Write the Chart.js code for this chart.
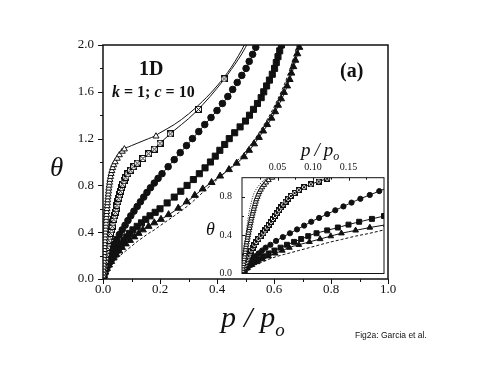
<!DOCTYPE html>
<html>
<head>
<meta charset="utf-8">
<script src="https://cdn.jsdelivr.net/npm/chart.js@4.4.0/dist/chart.umd.min.js"></script>
<style>
  body { margin: 0; background: #fff; }
  #wrap { position: relative; width: 491px; height: 379px; overflow: hidden; font-family: 'Liberation Serif', 'Times New Roman', serif; color: #111; }
  canvas { position: absolute; }
  .lbl { position: absolute; white-space: nowrap; line-height: 1; }
</style>
</head>
<body>
<div id="wrap">
  <canvas id="main" width="491" height="379" style="left:0;top:0"></canvas>
  <canvas id="inset" width="205" height="150" style="left:190px;top:140px"></canvas>

  <div class="lbl" style="left:50px;top:154px;font-size:27px;font-style:italic">θ</div>
  <div class="lbl" style="left:221px;top:302px;font-size:30px;font-style:italic">p<span style="margin:0 8px">/</span>p<sub style="font-size:19px;vertical-align:-9px">o</sub></div>
  <div class="lbl" style="left:139px;top:58px;font-size:20px;font-weight:bold">1D</div>
  <div class="lbl" style="left:112px;top:84px;font-size:16px;font-weight:bold"><i>k</i> = 1; <i>c</i> = 10</div>
  <div class="lbl" style="left:340px;top:60px;font-size:20px;font-weight:bold">(a)</div>
  <div class="lbl" style="left:301px;top:140px;font-size:19px;font-style:italic">p<span style="margin:0 4px">/</span>p<sub style="font-size:12px;vertical-align:-4px">o</sub></div>
  <div class="lbl" style="left:206px;top:220px;font-size:18px;font-style:italic">θ</div>
  <div class="lbl" style="left:355px;top:331px;font-size:8.5px;font-family:'Liberation Sans',Arial,sans-serif">Fig2a: Garcia et al.</div>
</div>

<script>
// p/po grid used by the model curves
const pGrid = [0, 0.002, 0.004, 0.006, 0.008, 0.01, 0.013, 0.016, 0.02, 0.025, 0.03, 0.035, 0.04, 0.05, 0.06, 0.07, 0.08, 0.09, 0.1, 0.12, 0.14, 0.16, 0.18, 0.2, 0.25, 0.3, 0.35, 0.4, 0.45, 0.5, 0.55, 0.6, 0.65, 0.7];

// model curves (theta at each pGrid value)
const thTriOpen = [0, 0.1, 0.2, 0.3, 0.38, 0.46, 0.57, 0.66, 0.77, 0.86, 0.92, 0.96, 0.99, 1.03, 1.07, 1.1, 1.12, 1.13, 1.14, 1.16, 1.18, 1.2, 1.22, 1.25, 1.32, 1.41, 1.52, 1.65, 1.81, 2.02, 2.3, 2.6, 2.9, 3.2];
const thSqOpen = [0, 0.04, 0.08, 0.12, 0.16, 0.19, 0.24, 0.28, 0.33, 0.38, 0.42, 0.48, 0.53, 0.64, 0.74, 0.82, 0.87, 0.91, 0.94, 0.99, 1.03, 1.07, 1.11, 1.16, 1.27, 1.37, 1.49, 1.63, 1.79, 1.98, 2.25, 2.55, 2.85, 3.15];
const thCircle = [0, 0.03, 0.055, 0.08, 0.1, 0.12, 0.145, 0.165, 0.19, 0.22, 0.25, 0.28, 0.3, 0.35, 0.39, 0.43, 0.47, 0.51, 0.55, 0.62, 0.69, 0.76, 0.82, 0.88, 1.02, 1.16, 1.3, 1.44, 1.6, 1.79, 2.06, 2.4, 2.8, 3.2];
const thSqFill = [0, 0.02, 0.04, 0.055, 0.07, 0.085, 0.1, 0.115, 0.135, 0.16, 0.18, 0.2, 0.22, 0.255, 0.29, 0.32, 0.35, 0.38, 0.41, 0.45, 0.49, 0.53, 0.565, 0.6, 0.7, 0.81, 0.93, 1.07, 1.22, 1.35, 1.53, 1.78, 2.2, 2.7];
const thTriFill = [0, 0.015, 0.03, 0.045, 0.06, 0.07, 0.085, 0.1, 0.115, 0.135, 0.155, 0.17, 0.19, 0.22, 0.25, 0.28, 0.3, 0.32, 0.34, 0.38, 0.42, 0.45, 0.48, 0.505, 0.58, 0.67, 0.77, 0.86, 0.95, 1.06, 1.22, 1.41, 1.67, 2.06];
const thDashed = [0, 0.015, 0.027, 0.038, 0.048, 0.057, 0.07, 0.082, 0.095, 0.11, 0.125, 0.14, 0.155, 0.18, 0.2, 0.22, 0.24, 0.26, 0.28, 0.32, 0.355, 0.39, 0.42, 0.455, 0.54, 0.63, 0.74, 0.85, 0.96, 1.09, 1.26, 1.47, 1.75, 2.15];
const thDotted = [0, 0.16, 0.3, 0.43, 0.55, 0.64, 0.74, 0.82, 0.88, 0.93, 0.97, 0.99, 1.01, 1.04, 1.08, 1.11, 1.13, 1.14, 1.15, 1.17, 1.19, 1.21, 1.23, 1.26, 1.33, 1.42, 1.53, 1.66, 1.82, 2.03, 2.31, 2.6, 2.9, 3.2];

// simulation points [p/po, theta]
const simTriOpen = [[0.0005,0.025],[0.001,0.05],[0.0015,0.075],[0.002,0.1],[0.0025,0.125],[0.003,0.15],[0.0035,0.175],[0.004,0.2],[0.0045,0.225],[0.005,0.25],[0.0055,0.275],[0.006,0.3],[0.0066,0.325],[0.0073,0.35],[0.0079,0.375],[0.0085,0.4],[0.0091,0.425],[0.0097,0.45],[0.0105,0.475],[0.0111,0.5],[0.0118,0.525],[0.0125,0.55],[0.0132,0.575],[0.014,0.6],[0.0148,0.625],[0.0157,0.65],[0.0165,0.675],[0.0175,0.7],[0.0184,0.725],[0.0193,0.75],[0.0203,0.775],[0.0217,0.8],[0.0231,0.825],[0.0244,0.85],[0.0263,0.875],[0.0283,0.9],[0.031,0.925],[0.0338,0.95],[0.0375,0.975],[0.0425,1.0],[0.05,1.03],[0.0575,1.06],[0.0675,1.09],[0.075,1.11],[0.186,1.22]];
const simSqOpen = [[0.0015,0.03],[0.003,0.06],[0.0045,0.09],[0.006,0.12],[0.0075,0.15],[0.0093,0.18],[0.0112,0.21],[0.013,0.24],[0.0153,0.27],[0.0176,0.3],[0.02,0.33],[0.023,0.36],[0.0263,0.39],[0.03,0.42],[0.0325,0.45],[0.035,0.48],[0.038,0.51],[0.0409,0.54],[0.0436,0.57],[0.0464,0.6],[0.049,0.63],[0.052,0.66],[0.055,0.69],[0.058,0.72],[0.0613,0.75],[0.065,0.78],[0.0688,0.81],[0.074,0.84],[0.08,0.87],[0.0875,0.9],[0.097,0.93],[0.108,0.96],[0.12,0.99],[0.14,1.03],[0.16,1.07],[0.18,1.11],[0.2,1.16],[0.236,1.24],[0.335,1.45],[0.425,1.71]];
const simCircle = [[0.002,0.03],[0.0044,0.06],[0.007,0.09],[0.01,0.12],[0.0138,0.15],[0.0184,0.18],[0.0233,0.21],[0.0283,0.24],[0.0333,0.27],[0.04,0.3],[0.048,0.34],[0.0575,0.38],[0.0675,0.42],[0.0775,0.46],[0.0875,0.5],[0.0975,0.54],[0.1086,0.58],[0.12,0.62],[0.1314,0.66],[0.1429,0.7],[0.1543,0.74],[0.1667,0.78],[0.18,0.82],[0.1933,0.86],[0.2071,0.9],[0.2286,0.96],[0.25,1.02],[0.271,1.08],[0.293,1.14],[0.314,1.2],[0.336,1.26],[0.357,1.32],[0.379,1.38],[0.4,1.44],[0.419,1.5],[0.438,1.56],[0.455,1.62],[0.471,1.68],[0.487,1.74],[0.502,1.8],[0.513,1.86],[0.525,1.92],[0.536,1.98]];
const simSqFill = [[0.003,0.03],[0.0067,0.06],[0.011,0.09],[0.017,0.12],[0.023,0.15],[0.03,0.18],[0.0375,0.21],[0.0457,0.24],[0.0543,0.27],[0.0633,0.3],[0.0733,0.33],[0.0833,0.36],[0.0933,0.39],[0.105,0.42],[0.12,0.45],[0.135,0.48],[0.15,0.51],[0.165,0.54],[0.183,0.57],[0.2,0.6],[0.225,0.65],[0.25,0.7],[0.273,0.75],[0.295,0.8],[0.317,0.85],[0.338,0.9],[0.358,0.95],[0.377,1.0],[0.394,1.05],[0.41,1.1],[0.427,1.15],[0.443,1.2],[0.462,1.25],[0.481,1.3],[0.5,1.35],[0.514,1.4],[0.528,1.45],[0.542,1.5],[0.555,1.55],[0.564,1.6],[0.574,1.65],[0.584,1.7],[0.594,1.75],[0.602,1.8],[0.608,1.85],[0.614,1.9],[0.62,1.95],[0.626,2.0]];
const simTriFill = [[0.004,0.03],[0.008,0.06],[0.014,0.09],[0.0213,0.12],[0.0288,0.15],[0.0375,0.18],[0.0467,0.21],[0.0567,0.24],[0.0667,0.27],[0.08,0.3],[0.095,0.33],[0.11,0.36],[0.125,0.39],[0.14,0.42],[0.16,0.45],[0.18,0.48],[0.2034,0.51],[0.23,0.55],[0.264,0.605],[0.294,0.66],[0.322,0.715],[0.35,0.77],[0.381,0.825],[0.411,0.88],[0.442,0.935],[0.469,0.99],[0.495,1.045],[0.5125,1.1],[0.53,1.155],[0.547,1.21],[0.562,1.265],[0.576,1.32],[0.591,1.375],[0.604,1.43],[0.614,1.485],[0.625,1.54],[0.635,1.595],[0.646,1.65],[0.655,1.705],[0.661,1.76],[0.668,1.815],[0.675,1.87],[0.682,1.925],[0.689,1.98]];

// axis ticks
const mainXMajor = [0, 0.2, 0.4, 0.6, 0.8, 1.0];
const mainXMinor = [0.1, 0.3, 0.5, 0.7, 0.9];
const mainYMajor = [0, 0.4, 0.8, 1.2, 1.6, 2.0];
const mainYMinor = [0.2, 0.6, 1.0, 1.4, 1.8];
const insetXMajor = [0.05, 0.1, 0.15];
const insetXMinor = [0.025, 0.075, 0.125, 0.175];
const insetYMajor = [0.4, 0.8];
const insetYMinor = [0.2, 0.6];

const serif = "'Liberation Serif', 'Times New Roman', serif";
const ink = '#111';

function crossSquare(size) {
  const c = document.createElement('canvas');
  c.width = size; c.height = size;
  const g = c.getContext('2d');
  g.fillStyle = '#fff';
  g.fillRect(0, 0, size, size);
  g.strokeStyle = ink;
  g.lineWidth = 1;
  g.strokeRect(0.5, 0.5, size - 1, size - 1);
  g.beginPath();
  g.moveTo(0.5, 0.5); g.lineTo(size - 0.5, size - 0.5);
  g.moveTo(size - 0.5, 0.5); g.lineTo(0.5, size - 0.5);
  g.stroke();
  return c;
}

function lineDs(arr, dash) {
  return {
    data: pGrid.map((p, i) => ({ x: p, y: arr[i] })),
    showLine: true, pointRadius: 0, borderColor: ink, borderWidth: 1,
    borderDash: dash || [], cubicInterpolationMode: 'monotone', order: 2,
  };
}

function markDs(pts, style, r, fill) {
  return {
    data: pts.map(([x, y]) => ({ x, y })),
    showLine: false, pointStyle: style, pointRadius: r,
    backgroundColor: fill, borderColor: ink, borderWidth: 1, order: 1,
  };
}

const decor = {
  id: 'decor',
  beforeDatasetsDraw(chart, args, o) {
    if (!o.fill) return;
    const a = chart.chartArea, ctx = chart.ctx;
    ctx.save();
    ctx.fillStyle = '#fff';
    ctx.fillRect(a.left, a.top, a.right - a.left, a.bottom - a.top);
    ctx.restore();
  },
  afterDraw(chart, args, o) {
    const { ctx, chartArea: a, scales } = chart;
    ctx.save();
    ctx.strokeStyle = ink;
    ctx.lineWidth = o.frame;
    ctx.strokeRect(a.left, a.top, a.right - a.left, a.bottom - a.top);
    ctx.lineWidth = 1;
    ctx.beginPath();
    const xEdge = o.xTop ? a.top : a.bottom;
    o.xTicks.forEach(([vals, len]) => vals.forEach(v => {
      const px = Math.round(scales.x.getPixelForValue(v)) + 0.5;
      ctx.moveTo(px, xEdge); ctx.lineTo(px, xEdge + len);
    }));
    o.yTicks.forEach(([vals, len]) => vals.forEach(v => {
      const py = Math.round(scales.y.getPixelForValue(v)) + 0.5;
      ctx.moveTo(a.left, py); ctx.lineTo(a.left + len, py);
    }));
    ctx.stroke();
    ctx.restore();
  },
};

const sqMain = crossSquare(7);
const sqInset = crossSquare(6);
const noGrid = { display: false, drawTicks: false };

new Chart(document.getElementById('main'), {
  type: 'scatter',
  data: {
    datasets: [
      lineDs(thTriOpen), lineDs(thSqOpen), lineDs(thCircle), lineDs(thSqFill), lineDs(thTriFill),
      lineDs(thDashed, [3, 2]),
      markDs(simTriOpen, 'triangle', 3.5, '#fff'),
      markDs(simSqOpen, sqMain, 3.5, '#fff'),
      markDs(simCircle, 'circle', 3.3, ink),
      markDs(simSqFill, 'rect', 4.3, ink),
      markDs(simTriFill, 'triangle', 4, ink),
    ],
  },
  options: {
    responsive: false, animation: false,
    layout: { padding: { left: 0, top: 45, right: 103, bottom: 60 } },
    plugins: {
      legend: { display: false }, tooltip: { enabled: false },
      decor: { frame: 1.5, xTop: false, xTicks: [[mainXMajor, 5], [mainXMinor, 3]], yTicks: [[mainYMajor, -5], [mainYMinor, -3]] },
    },
    scales: {
      x: {
        type: 'linear', min: 0, max: 1,
        afterFit: s => { s.height = 40; },
        grid: noGrid, border: { display: false },
        ticks: { stepSize: 0.2, maxRotation: 0, padding: 3, color: ink, font: { family: serif, size: 13 }, callback: v => v.toFixed(1) },
      },
      y: {
        type: 'linear', min: 0, max: 2,
        afterFit: s => { s.width = 103; },
        grid: noGrid, border: { display: false },
        ticks: { stepSize: 0.4, padding: 9, color: ink, font: { family: serif, size: 13 }, callback: v => v.toFixed(1) },
      },
    },
  },
  plugins: [decor],
});

new Chart(document.getElementById('inset'), {
  type: 'scatter',
  data: {
    datasets: [
      lineDs(thTriOpen), lineDs(thSqOpen), lineDs(thCircle), lineDs(thSqFill), lineDs(thTriFill),
      lineDs(thDashed, [3, 2]), lineDs(thDotted, [1, 1.5]),
      markDs(simTriOpen, 'triangle', 3, '#fff'),
      markDs(simSqOpen, sqInset, 3, '#fff'),
      markDs(simCircle, 'circle', 2.6, ink),
      markDs(simSqFill, 'rect', 3.5, ink),
      markDs(simTriFill, 'triangle', 3.3, ink),
    ],
  },
  options: {
    responsive: false, animation: false,
    layout: { padding: { left: 0, top: 17.7, right: 11, bottom: 16.5 } },
    plugins: {
      legend: { display: false }, tooltip: { enabled: false },
      decor: { fill: true, frame: 1, xTop: true, xTicks: [[insetXMajor, 3], [insetXMinor, 2]], yTicks: [[insetYMajor, 3], [insetYMinor, 2]] },
    },
    scales: {
      x: {
        type: 'linear', position: 'top', min: 0, max: 0.2,
        afterFit: s => { s.height = 20; },
        grid: noGrid, border: { display: false },
        ticks: { stepSize: 0.05, maxRotation: 0, padding: 4, color: ink, font: { family: serif, size: 10 },
          callback: v => (v > 0.01 && v < 0.19 ? v.toFixed(2) : '') },
      },
      y: {
        type: 'linear', min: 0, max: 1,
        afterFit: s => { s.width = 52; },
        grid: noGrid, border: { display: false },
        ticks: { stepSize: 0.4, padding: 10, color: ink, font: { family: serif, size: 10 },
          callback: v => (v < 0.95 ? v.toFixed(1) : '') },
      },
    },
  },
  plugins: [decor],
});
</script>
</body>
</html>
